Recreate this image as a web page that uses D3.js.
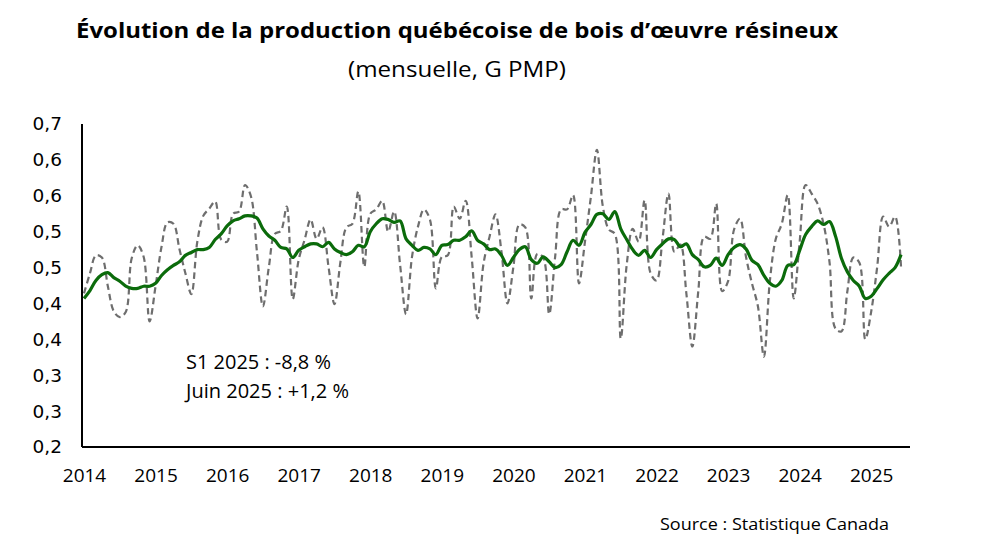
<!DOCTYPE html>
<html><head><meta charset="utf-8">
<script src="https://cdn.jsdelivr.net/npm/d3@7"></script>
<style>
html,body{margin:0;padding:0;background:#fff;}
svg{display:block;}
</style></head>
<body>
<svg id="c" width="985" height="551"></svg>
<script>
// Monthly data, Jan 2014 – Jun 2025 (G PMP)
const startYear = 2014;
const monthly = [
0.454,0.482,0.507,0.504,0.464,0.429,0.421,0.428,0.503,0.521,0.505,0.415,
0.464,0.519,0.553,0.551,0.516,0.482,0.453,0.526,0.562,0.572,0.582,0.529,
0.526,0.565,0.568,0.605,0.589,0.512,0.436,0.491,0.537,0.541,0.575,0.446,
0.501,0.529,0.557,0.530,0.546,0.491,0.439,0.498,0.546,0.551,0.596,0.491,
0.565,0.571,0.583,0.540,0.568,0.494,0.425,0.505,0.547,0.571,0.557,0.461,
0.505,0.507,0.575,0.558,0.583,0.505,0.419,0.496,0.533,0.564,0.512,0.440,
0.491,0.550,0.546,0.447,0.509,0.504,0.425,0.505,0.571,0.571,0.591,0.468,
0.526,0.589,0.654,0.575,0.543,0.537,0.391,0.494,0.544,0.526,0.584,0.482,
0.472,0.530,0.593,0.512,0.522,0.454,0.380,0.457,0.533,0.530,0.579,0.457,
0.471,0.543,0.558,0.505,0.468,0.436,0.366,0.471,0.530,0.551,0.591,0.447,
0.526,0.605,0.593,0.579,0.551,0.498,0.405,0.401,0.457,0.504,0.497,0.390,
0.429,0.491,0.561,0.547,0.561,0.490
];
// Trend (moving average)
const trend = [
0.447,0.458,0.472,0.480,0.483,0.476,0.471,0.464,0.461,0.461,0.464,0.464,
0.468,0.479,0.487,0.493,0.498,0.507,0.511,0.515,0.515,0.518,0.529,0.537,
0.548,0.555,0.558,0.562,0.562,0.559,0.544,0.534,0.528,0.518,0.516,0.504,
0.514,0.519,0.523,0.523,0.519,0.525,0.516,0.511,0.508,0.512,0.521,0.519,
0.540,0.551,0.558,0.557,0.553,0.555,0.530,0.521,0.514,0.518,0.516,0.508,
0.521,0.522,0.528,0.528,0.533,0.541,0.528,0.523,0.515,0.516,0.507,0.493,
0.504,0.515,0.519,0.501,0.496,0.505,0.498,0.490,0.494,0.512,0.528,0.521,
0.539,0.550,0.564,0.565,0.557,0.568,0.544,0.529,0.515,0.507,0.514,0.504,
0.515,0.523,0.530,0.529,0.519,0.523,0.508,0.501,0.491,0.493,0.503,0.493,
0.508,0.518,0.522,0.516,0.500,0.494,0.479,0.468,0.464,0.472,0.493,0.494,
0.514,0.536,0.547,0.555,0.550,0.554,0.534,0.503,0.484,0.472,0.464,0.447,
0.450,0.461,0.473,0.482,0.490,0.508
];
const xTickLabels = ["2014","2015","2016","2017","2018","2019","2020","2021","2022","2023","2024","2025"];
const yTickValues = [0.24,0.29,0.34,0.39,0.44,0.49,0.54,0.59,0.64,0.69];
const yTickLabels = ["0,2","0,3","0,3","0,4","0,4","0,5","0,5","0,6","0,6","0,7"];

const svg = d3.select("#c");
const L = 82, R = 910, T = 124, B = 447;
const x = d3.scaleLinear().domain([-0.335, 138.5]).range([L, R]);
const y = d3.scaleLinear().domain([0.24, 0.69]).range([B, T]);

// Title
svg.append("text").attr("x", 76).attr("y", 38)
  .attr("font-family", "'Open Sans', sans-serif").attr("font-weight", 700)
  .attr("font-size", 22).attr("fill", "#000")
  .attr("textLength", 762).attr("lengthAdjust", "spacingAndGlyphs")
  .text("Évolution de la production québécoise de bois d’œuvre résineux");
svg.append("text").attr("x", 457).attr("y", 77).attr("text-anchor", "middle")
  .attr("font-family", "'Open Sans', sans-serif").attr("font-size", 21).attr("fill", "#000")
  .attr("textLength", 218).attr("lengthAdjust", "spacingAndGlyphs")
  .text("(mensuelle, G PMP)");

// Axes
const xAxis = d3.axisBottom(x)
  .tickValues(xTickLabels.map((d, i) => i * 12))
  .tickSize(0).tickPadding(22)
  .tickFormat((d, i) => xTickLabels[i]);
const gx = svg.append("g").attr("transform", `translate(0,${B})`).call(xAxis);
gx.select(".domain").attr("stroke", "#000").attr("stroke-width", 2).attr("d", `M${L},0H${R}`);
gx.selectAll("text").attr("font-family", "'Open Sans', sans-serif").attr("font-size", 19).attr("fill", "#000");

const yAxis = d3.axisLeft(y).tickValues(yTickValues).tickSize(0).tickPadding(20)
  .tickFormat((d, i) => yTickLabels[i]);
const gy = svg.append("g").attr("transform", `translate(${L},0)`).call(yAxis);
gy.select(".domain").attr("stroke", "#000").attr("stroke-width", 2).attr("d", `M0,${T}V${B}`);
gy.selectAll("text").attr("font-family", "'DejaVu Sans', sans-serif").attr("font-size", 18.5).attr("fill", "#000");

// Lines
const line = d3.line().x((d, i) => x(i)).y(d => y(d)).curve(d3.curveCatmullRom.alpha(0.5));
svg.append("path").datum(monthly).attr("d", line)
  .attr("fill", "none").attr("stroke", "#6e6e6e").attr("stroke-width", 2.2)
  .attr("stroke-dasharray", "6.5,4");
svg.append("path").datum(trend).attr("d", line)
  .attr("fill", "none").attr("stroke", "#0b6b0b").attr("stroke-width", 3.2);

// Annotations
const ann = [["S1 2025 : -8,8 %", 369, 145], ["Juin 2025 : +1,2 %", 398, 163]];
ann.forEach(a => svg.append("text").attr("x", 186).attr("y", a[1])
  .attr("font-family", "'Open Sans', sans-serif").attr("font-size", 19.5).attr("fill", "#000")
  .attr("textLength", a[2]).attr("lengthAdjust", "spacingAndGlyphs").text(a[0]));

svg.append("text").attr("x", 889).attr("y", 530).attr("text-anchor", "end")
  .attr("font-family", "'Open Sans', sans-serif").attr("font-size", 17).attr("fill", "#000")
  .attr("textLength", 229).attr("lengthAdjust", "spacingAndGlyphs")
  .text("Source : Statistique Canada");
</script>
</body></html>
